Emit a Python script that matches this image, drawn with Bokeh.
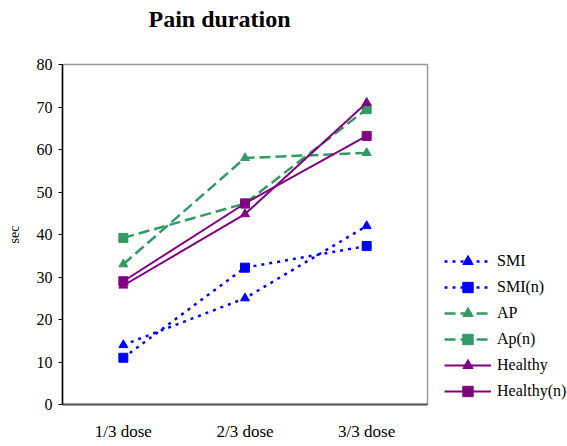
from bokeh.plotting import figure
from bokeh.layouts import row
from bokeh.models import Legend, LegendItem, FactorRange, Range1d, Title
from bokeh.embed import file_html
from bokeh.resources import INLINE

# Dose levels and mean pain duration (sec) per group
doses = ["1/3 dose", "2/3 dose", "3/3 dose"]
smi = [14, 25, 42]
smi_n = [11, 32.2, 37.3]
ap = [33, 58, 59.2]
ap_n = [39.2, 47.3, 69.5]
healthy = [28, 44.8, 71]
healthy_n = [29, 47.3, 63.2]
y_ticks = [0, 10, 20, 30, 40, 50, 60, 70, 80]

SERIF = "Liberation Serif"
BLUE = "#0000FF"
GREEN = "#339966"
PURPLE = "#800080"

p = figure(
    width=440, height=446,
    x_range=FactorRange(*doses, range_padding=0),
    y_range=Range1d(0, 80),
    output_backend="svg", toolbar_location=None,
    min_border_left=62, min_border_right=13,
    min_border_top=64, min_border_bottom=42,
)
p.background_fill_color = "white"
p.border_fill_color = "white"
p.outline_line_color = "#9a9a9a"
p.outline_line_width = 1.5
p.xgrid.grid_line_color = None
p.ygrid.grid_line_color = None

# Gap under the title, then the title itself
p.add_layout(Title(text=" ", text_font_size="1px", standoff=24), "above")
p.add_layout(Title(
    text="Pain duration", text_font=SERIF, text_font_style="bold",
    text_font_size="24px", text_color="black",
    align="left", offset=86, standoff=9, vertical_align="middle",
), "above")

# Axes
p.yaxis.ticker = y_ticks
p.yaxis.axis_line_color = "black"
p.yaxis.axis_line_width = 1.5
p.yaxis.major_tick_in = 0
p.yaxis.major_tick_out = 4
p.yaxis.minor_tick_line_color = None
p.yaxis.major_label_text_font = SERIF
p.yaxis.major_label_text_font_size = "16px"
p.yaxis.major_label_text_color = "black"
p.yaxis.major_label_standoff = 6
p.yaxis.axis_label = "sec"
p.yaxis.axis_label_text_font = SERIF
p.yaxis.axis_label_text_font_style = "normal"
p.yaxis.axis_label_text_font_size = "14px"
p.yaxis.axis_label_text_color = "black"
p.yaxis.axis_label_standoff = 12

p.xaxis.axis_line_color = "#555555"
p.xaxis.axis_line_width = 2
p.xaxis.major_tick_line_color = None
p.xaxis.minor_tick_line_color = None
p.xaxis.major_label_text_font = SERIF
p.xaxis.major_label_text_font_size = "17px"
p.xaxis.major_label_text_color = "black"
p.xaxis.major_label_standoff = 11

series = [
    ("SMI", smi, BLUE, "3 5", 2.5, "triangle"),
    ("SMI(n)", smi_n, BLUE, "3 5", 2.5, "square"),
    ("AP", ap, GREEN, "11 5", 2.5, "triangle"),
    ("Ap(n)", ap_n, GREEN, "11 5", 2.5, "square"),
    ("Healthy", healthy, PURPLE, "solid", 2, "triangle"),
    ("Healthy(n)", healthy_n, PURPLE, "solid", 2, "square"),
]

for name, vals, color, dash, lw, marker in series:
    p.line(doses, vals, line_color=color, line_width=lw, line_dash=dash)
    p.scatter(doses, vals, marker=marker, size=9,
              fill_color=color, line_color=color)

# Side panel holding the series key (swatch-only renderers, nothing plotted)
key = figure(
    width=127, height=446,
    x_range=Range1d(0, 1), y_range=Range1d(0, 1),
    x_axis_type=None, y_axis_type=None,
    output_backend="svg", toolbar_location=None,
    min_border=0,
)
key.outline_line_color = None
key.xgrid.grid_line_color = None
key.ygrid.grid_line_color = None
key.background_fill_color = "white"
key.border_fill_color = "white"

nan = [float("nan")]
items = []
for name, vals, color, dash, lw, marker in series:
    ln = key.line(nan, nan, line_color=color, line_width=lw, line_dash=dash)
    mk = key.scatter(nan, nan, marker=marker, size=8,
                     fill_color=color, line_color=color)
    items.append(LegendItem(label=name, renderers=[ln, mk]))

legend = Legend(
    items=items, location=(4, 0),
    border_line_color=None, background_fill_alpha=0,
    padding=0, margin=0, spacing=0,
    glyph_width=47, glyph_height=26, label_height=26,
    label_standoff=6,
    label_text_font=SERIF, label_text_font_size="16px",
    label_text_color="black",
)
key.add_layout(legend, "center")

layout = row(p, key, spacing=0)
open("out.html", "w").write(file_html(layout, INLINE))
